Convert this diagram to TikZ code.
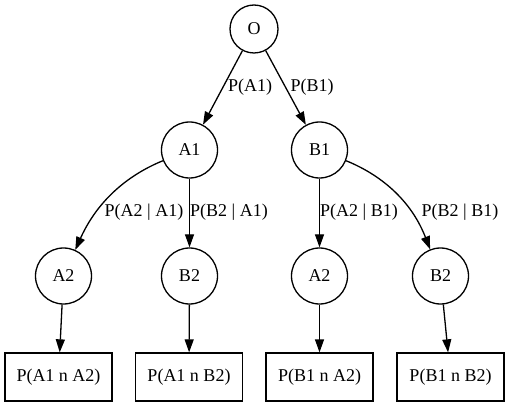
\documentclass[tikz,border=0pt]{standalone}
\usepackage{fontspec}
\setmainfont{Liberation Serif}
\usetikzlibrary{arrows.meta}

\begin{document}
\begin{tikzpicture}[x=1pt,y=-1pt,line width=1.3pt,>={Triangle[length=13pt,width=9pt]},
  event/.style={draw,circle,inner sep=0pt,minimum size=56pt},
  joint/.style={draw,rectangle,minimum width=107pt,minimum height=48pt},
  every node/.style={font=\fontsize{18}{20}\selectfont}]
\useasboundingbox (0,0) rectangle (509,406);
\node[event,minimum size=48pt] (O) at (254,29) {O};
\node[event] (A1) at (189.5,150) {A1};
\node[event] (B1) at (319.5,150) {B1};
\node[event] (A2a) at (63.5,276) {A2};
\node[event] (B2a) at (189.5,276) {B2};
\node[event] (A2b) at (319.5,276) {A2};
\node[event] (B2b) at (440.5,276) {B2};
\node[joint] (A1A2) at (58.5,377) {P(A1 n A2)};
\node[joint] (A1B2) at (189,377) {P(A1 n B2)};
\node[joint] (B1A2) at (319.5,377) {P(B1 n A2)};
\node[joint] (B1B2) at (450.5,377) {P(B1 n B2)};
\draw[->] (O) -- (A1);
\draw[->] (O) -- (B1);
\draw[->] (A1) .. controls (135,172) and (100,195) .. (A2a);
\draw[->] (A1) -- (B2a);
\draw[->] (B1) -- (A2b);
\draw[->] (B1) .. controls (374,172) and (409,195) .. (B2b);
\draw[->] (A2a) -- (A1A2);
\draw[->] (B2a) -- (A1B2);
\draw[->] (A2b) -- (B1A2);
\draw[->] (B2b) -- (B1B2);
\node (pA1) at (250,87) {P(A1)};
\node (pB1) at (312,87) {P(B1)};
\node (pA2A1) at (144,212) {P(A2 | A1)};
\node (pB2A1) at (229,212) {P(B2 | A1)};
\node (pA2B1) at (359,212) {P(A2 | B1)};
\node (pB2B1) at (460,212) {P(B2 | B1)};
\end{tikzpicture}
\end{document}
